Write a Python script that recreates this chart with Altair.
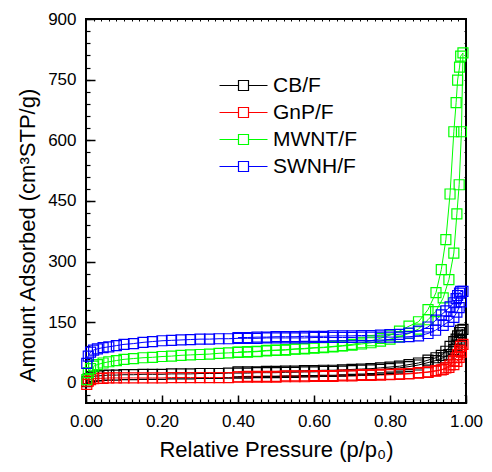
import altair as alt
import pandas as pd

MATERIALS = ["CB/F", "GnP/F", "MWNT/F", "SWNH/F"]
COLORS = ["#000000", "#FF0000", "#00FF00", "#0000FF"]

P_ADS = [0.002, 0.006, 0.012, 0.02, 0.03, 0.045, 0.06, 0.08,
         0.10, 0.125, 0.15, 0.175, 0.20, 0.225, 0.25, 0.275, 0.30, 0.325, 0.35,
         0.375, 0.40, 0.425, 0.45, 0.475, 0.50, 0.525, 0.55, 0.575, 0.60, 0.625,
         0.65, 0.675, 0.70, 0.725, 0.75, 0.775, 0.80, 0.825, 0.85, 0.875, 0.90,
         0.92, 0.94, 0.955, 0.968, 0.976, 0.982, 0.988, 0.992]
P_DES = [0.986, 0.983, 0.978, 0.974, 0.968, 0.958, 0.947, 0.935, 0.921, 0.90,
         0.875, 0.85, 0.825, 0.80, 0.775, 0.75, 0.725, 0.70, 0.675, 0.65,
         0.625, 0.60, 0.575, 0.55, 0.525, 0.50, 0.475, 0.45, 0.425, 0.40]

CB_ADS = [3, 10, 14, 16, 17, 18, 19, 19,
          20, 20, 21, 21, 21, 22, 22, 22, 23, 23, 23, 24, 24, 24, 25, 25, 25,
          26, 26, 27, 27, 28, 28, 29, 30, 31, 32, 33, 35, 37, 40, 44, 50,
          55, 62, 70, 82, 93, 105, 118, 132]
GNP_ADS = [-4, 4, 8, 10, 11, 11, 12, 12,
           12, 12, 12, 12, 12, 13, 13, 13, 13, 13, 13, 13, 14, 14, 14, 14, 14,
           15, 15, 15, 16, 16, 16, 17, 17, 18, 18, 19, 20, 21, 22, 24, 26,
           29, 33, 38, 45, 53, 63, 76, 95]
MWNT_ADS = [8, 25, 35, 41, 45, 49, 52, 55,
            58, 60, 62, 63, 65, 66, 68, 69, 70, 71, 73, 74, 75, 76, 77, 79, 80,
            81, 83, 84, 86, 87, 89, 91, 93, 96, 99, 103, 108, 114, 122, 133, 156,
            176, 210, 255, 321, 418, 490, 621, 816]
SWNH_ADS = [48, 66, 76, 81, 84, 87, 89, 92,
            95, 97, 100, 102, 104, 105, 106, 107, 108, 108, 109, 109, 110, 110, 110, 111, 111,
            111, 111, 111, 112, 112, 112, 112, 112, 113, 113, 113, 113, 113, 114, 116, 122,
            130, 142, 152, 162, 175, 186, 200, 226]

CB_DES = [130, 124, 116, 108, 102, 90, 78, 68, 62, 56,
          49, 45, 41, 39, 37, 35, 34, 33, 32, 31,
          31, 30, 30, 29, 29, 28, 28, 27, 27, 27]
GNP_DES = [90, 80, 70, 62, 54, 44, 37, 32, 30, 27,
           25, 23, 22, 21, 21, 20, 20, 19, 19, 18,
           18, 18, 17, 17, 17, 16, 16, 16, 16, 15]
MWNT_DES = [808, 781, 749, 693, 621, 467, 354, 280, 223, 181,
            151, 140, 128, 118, 110, 104, 99, 95, 92, 90,
            88, 87, 85, 84, 82, 81, 80, 78, 77, 76]
SWNH_DES = [226, 222, 216, 208, 198, 188, 178, 168, 155, 138,
            128, 123, 120, 119, 118, 117, 117, 116, 116, 116,
            115, 115, 115, 114, 114, 114, 113, 113, 112, 112]

X_MAJOR = [0.0, 0.2, 0.4, 0.6, 0.8, 1.0]
X_MINOR = [round(i * 0.02, 2) for i in range(51)]
Y_MAJOR = [0, 150, 300, 450, 600, 750, 900]
Y_MINOR = [i * 30 for i in range(-1, 31)]

rows = []
for m, ads, des in zip(MATERIALS, [CB_ADS, GNP_ADS, MWNT_ADS, SWNH_ADS],
                       [CB_DES, GNP_DES, MWNT_DES, SWNH_DES]):
    for i, (p, v) in enumerate(zip(P_ADS, ads)):
        rows.append({"material": m, "p": p, "v": v, "ord": i})
    for j, (p, v) in enumerate(zip(P_DES, des)):
        rows.append({"material": m, "p": p, "v": v, "ord": len(P_ADS) + j})
df = pd.DataFrame(rows)

FONT = "Liberation Sans"
XDOM = [0, 1]
YDOM = [-50, 900]

sym_path = "M-3,0H-0.625M0.625,0H3M-0.625,-0.625H0.625V0.625H-0.625Z"
legend = alt.Legend(title=None, orient="none", legendX=147, legendY=56,
                    symbolType=sym_path, symbolSize=256, symbolStrokeWidth=1.2,
                    labelFont=FONT, labelFontSize=21, labelOffset=19,
                    rowPadding=5, padding=0, labelColor="black")
color = alt.Color("material:N", scale=alt.Scale(domain=MATERIALS, range=COLORS),
                  sort=MATERIALS, legend=legend)

xax = alt.Axis(values=X_MAJOR, format=".2f", domain=False, offset=-8, tickSize=8,
               tickWidth=1.5, tickColor="black", labelPadding=10, labelFontSize=17,
               title="Relative Pressure (p/p₀)", titleFontSize=22, titlePadding=10,
               grid=False, labelFlush=False)
yax = alt.Axis(values=Y_MAJOR, domain=False, offset=-9, tickSize=9,
               tickWidth=1.5, tickColor="black", labelPadding=10, labelFontSize=17,
               title="Amount Adsorbed (cm³STP/g)", titleFontSize=22, titlePadding=8,
               titleY=216, grid=False, labelFlush=False)

xs = alt.Scale(domain=XDOM, nice=False, zero=False)
ys = alt.Scale(domain=YDOM, nice=False, zero=False)

base = alt.Chart(df)
lines = base.mark_line(strokeWidth=1).encode(
    x=alt.X("p:Q", scale=xs, axis=xax),
    y=alt.Y("v:Q", scale=ys, axis=yax),
    color=color,
    detail="material:N",
    order="ord:Q",
)
points = base.mark_point(shape="square", filled=False, size=100, strokeWidth=1.2, opacity=1).encode(
    x=alt.X("p:Q", scale=xs, axis=xax),
    y=alt.Y("v:Q", scale=ys, axis=yax),
    color=color,
)
main = alt.layer(lines, points)

minor = base.mark_point(opacity=0).encode(
    x=alt.X("p:Q", scale=xs, axis=alt.Axis(orient="bottom", values=X_MINOR, labels=False,
            domain=False, offset=-4, tickSize=4, tickWidth=1.2, tickColor="black",
            title=None, grid=False)),
    y=alt.Y("v:Q", scale=ys, axis=alt.Axis(orient="left", values=Y_MINOR, labels=False,
            domain=False, offset=-4, tickSize=4, tickWidth=1.2, tickColor="black",
            title=None, grid=False)),
)
opp = base.mark_point(opacity=0).encode(
    x=alt.X("p:Q", scale=xs, axis=alt.Axis(orient="top", values=X_MINOR, labels=False,
            domain=False, offset=-2, tickSize=2, tickWidth=1, tickColor="black",
            title=None, grid=False)),
    y=alt.Y("v:Q", scale=ys, axis=alt.Axis(orient="right", values=Y_MINOR, labels=False,
            domain=False, offset=-2, tickSize=2, tickWidth=1, tickColor="black",
            title=None, grid=False)),
)

chart = alt.layer(main, minor, opp).resolve_scale(
    x="independent", y="independent"
).properties(
    width=380, height=384,
    autosize=alt.AutoSizeParams(type="none"),
    padding={"left": 78, "top": 11, "right": 18, "bottom": 61},
).configure_view(
    stroke="black", strokeWidth=2
).configure_axis(
    labelFont=FONT, titleFont=FONT, labelColor="black", titleColor="black",
    titleFontWeight="normal"
)

chart.save("out.html", embed_options={"renderer": "svg", "actions": False})
